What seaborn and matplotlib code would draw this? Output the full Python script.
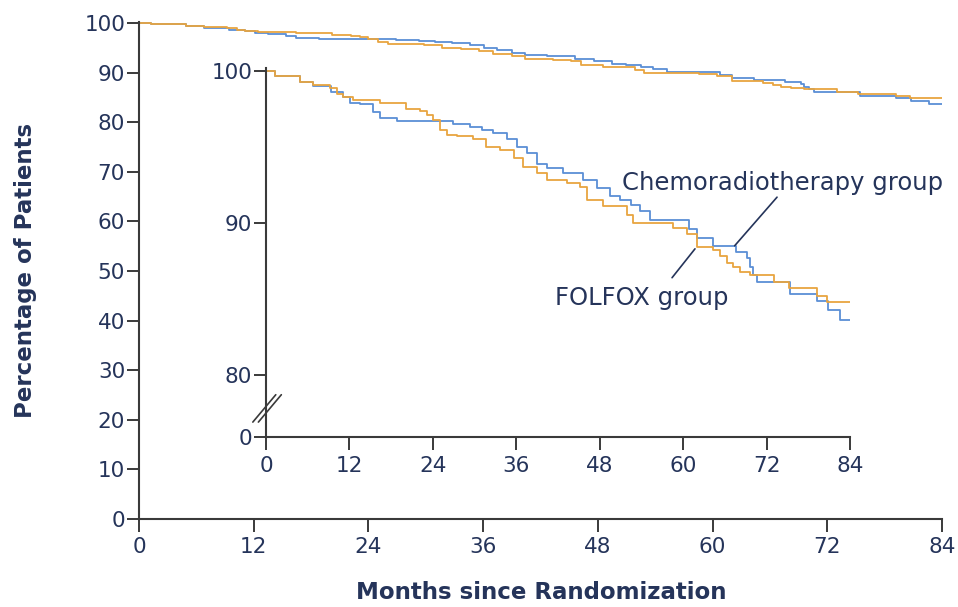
import numpy as np
import pandas as pd
import matplotlib
matplotlib.use("Agg")
import matplotlib.pyplot as plt
import seaborn as sns

# Kaplan-Meier steps (months, percent)
chemo_months = [0, 1.3, 4.9, 6.8, 9.4, 11.1, 12.1, 13.5, 15.4, 16.4,
                18.8, 26.9, 29.3, 31.0, 32.7, 34.6, 36.1, 37.5, 39.0, 40.4,
                42.7, 45.6, 47.6, 49.5, 50.9, 52.5, 53.8, 55.2, 60.8, 62.0,
                64.3, 67.6, 69.2, 69.6, 70.1, 70.6, 75.4, 79.2, 80.8, 82.6,
                84.0]
chemo_pct = [100, 99.7, 99.3, 99.0, 98.6, 98.3, 97.9, 97.8, 97.3, 96.9,
             96.7, 96.5, 96.3, 96.1, 95.9, 95.5, 95.0, 94.6, 93.9, 93.6,
             93.3, 92.8, 92.3, 91.8, 91.5, 91.2, 90.8, 90.2, 89.6, 89.0,
             88.5, 88.1, 87.7, 87.1, 86.6, 86.1, 85.3, 84.9, 84.3, 83.6,
             83.6]

folfox_months = [0, 1.3, 4.9, 6.8, 9.2, 10.2, 11.1, 12.5, 16.4, 20.2,
                 22.2, 23.1, 24.0, 25.0, 26.0, 27.4, 29.8, 31.7, 33.7, 35.6,
                 37.0, 39.0, 40.4, 43.3, 45.2, 46.2, 48.5, 51.9, 52.8, 58.6,
                 60.5, 62.0, 64.3, 65.3, 66.3, 67.2, 68.2, 69.6, 73.0, 75.2,
                 79.2, 80.7, 84.0]
folfox_pct = [100, 99.7, 99.3, 99.1, 98.9, 98.5, 98.3, 98.1, 97.9, 97.5,
              97.4, 97.1, 96.8, 96.1, 95.8, 95.7, 95.5, 95.0, 94.8, 94.3,
              93.7, 93.3, 92.8, 92.6, 92.4, 91.5, 91.1, 90.5, 90.0, 89.7,
              89.3, 88.4, 88.2, 87.8, 87.4, 87.1, 86.8, 86.6, 86.1, 85.7,
              85.2, 84.8, 84.8]

month_ticks = [0, 12, 24, 36, 48, 60, 72, 84]
main_yticks = list(range(0, 101, 10))

df = pd.concat([
    pd.DataFrame({"month": chemo_months, "pct": chemo_pct, "group": "Chemoradiotherapy"}),
    pd.DataFrame({"month": folfox_months, "pct": folfox_pct, "group": "FOLFOX"}),
])

sns.set_style("white")
plt.rcParams["font.family"] = ["DejaVu Sans"]

navy = "#25345a"
axcol = "#3a3a3a"
pal = {"Chemoradiotherapy": "#5b8fd6", "FOLFOX": "#e8a540"}

fig = plt.figure(figsize=(9.58, 6.07), dpi=100)
ax = fig.add_axes([0.1451, 0.1450, 0.8382, 0.8188])
ax_in = fig.add_axes([0.2777, 0.2801, 0.6096, 0.6079])

for a in (ax, ax_in):
    sns.lineplot(data=df, x="month", y="pct", hue="group", palette=pal,
                 estimator=None, drawstyle="steps-post", linewidth=1.3,
                 legend=False, ax=a)
    a.set_facecolor("none")
    for s in ("top", "right"):
        a.spines[s].set_visible(False)
    for s in ("left", "bottom"):
        a.spines[s].set_color(axcol)
        a.spines[s].set_linewidth(1.5)
    a.tick_params(bottom=True, left=True, direction="out", length=9,
                  width=1.4, color=axcol, labelcolor=navy, labelsize=15.5,
                  pad=1)
    a.set_xlim(0, 84)
    a.set_xticks(month_ticks)
    a.set_xlabel("")
    a.set_ylabel("")

ax.set_ylim(0, 100.2)
ax.set_yticks(main_yticks)
ax.tick_params(axis="x", pad=4)
ax.set_xlabel("Months since Randomization", fontsize=16.5, fontweight="bold",
              color=navy)
ax.set_ylabel("Percentage of Patients", fontsize=16.5, fontweight="bold",
              color=navy)
ax.xaxis.set_label_coords(0.5006, -0.125)
ax.yaxis.set_label_coords(-0.127, 0.501)

in_bottom = 75.92
ax_in.set_ylim(in_bottom, 100.2)
ax_in.set_yticks([in_bottom, 80, 90, 100])
ax_in.set_yticklabels(["0", "80", "90", "100"])
ax_in.tick_params(axis="x", pad=5)

# axis break marks
for dx in (0.0, 0.8):
    ax_in.plot([-1.9 + dx, 1.4 + dx], [76.9, 78.7], color=axcol, lw=1.2,
               clip_on=False)

# labels with leader lines
ax_in.plot([73.5, 67.4], [91.7, 88.5], color=navy, lw=1.2)
ax_in.plot([61.7, 58.4], [88.3, 86.4], color=navy, lw=1.2)
ax_in.text(51.2, 92.63, "Chemoradiotherapy group", fontsize=17.5, color=navy,
           ha="left", va="center")
ax_in.text(41.6, 85.07, "FOLFOX group", fontsize=17.5, color=navy,
           ha="left", va="center")

fig.savefig("out.png", dpi=100)
